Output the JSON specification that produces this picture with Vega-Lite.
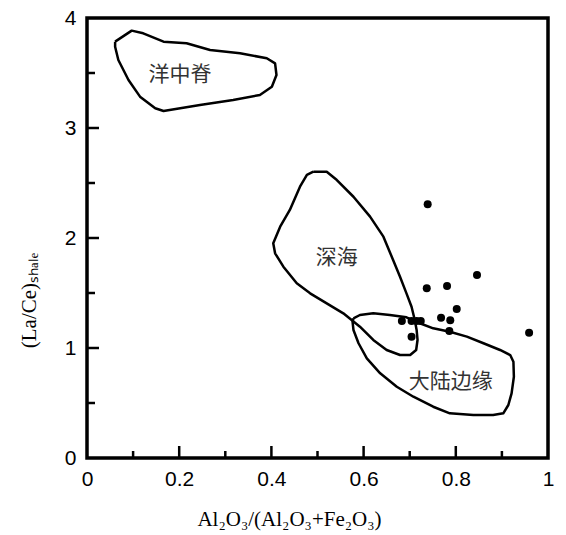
{
  "$schema": "https://vega.github.io/schema/vega-lite/v6.json",
  "width": 461,
  "height": 440,
  "autosize": {"type": "none"},
  "padding": {"left": 87, "top": 18, "right": 18, "bottom": 77},
  "background": "white",
  "view": {"stroke": "black", "strokeWidth": 3.5},
  "resolve": {"scale": {"x": "independent", "y": "independent"}, "axis": {"x": "independent", "y": "independent"}},
  "datasets": {
    "regions": [
      {"region": "ridge", "ord": 1, "x": 0.061, "y": 3.785},
      {"region": "ridge", "ord": 2, "x": 0.097, "y": 3.885},
      {"region": "ridge", "ord": 3, "x": 0.122, "y": 3.861},
      {"region": "ridge", "ord": 4, "x": 0.166, "y": 3.785},
      {"region": "ridge", "ord": 5, "x": 0.216, "y": 3.770},
      {"region": "ridge", "ord": 6, "x": 0.267, "y": 3.709},
      {"region": "ridge", "ord": 7, "x": 0.332, "y": 3.679},
      {"region": "ridge", "ord": 8, "x": 0.390, "y": 3.634},
      {"region": "ridge", "ord": 9, "x": 0.408, "y": 3.588},
      {"region": "ridge", "ord": 10, "x": 0.411, "y": 3.482},
      {"region": "ridge", "ord": 11, "x": 0.401, "y": 3.375},
      {"region": "ridge", "ord": 12, "x": 0.375, "y": 3.300},
      {"region": "ridge", "ord": 13, "x": 0.317, "y": 3.255},
      {"region": "ridge", "ord": 14, "x": 0.245, "y": 3.209},
      {"region": "ridge", "ord": 15, "x": 0.166, "y": 3.155},
      {"region": "ridge", "ord": 16, "x": 0.148, "y": 3.179},
      {"region": "ridge", "ord": 17, "x": 0.115, "y": 3.285},
      {"region": "ridge", "ord": 18, "x": 0.090, "y": 3.436},
      {"region": "ridge", "ord": 19, "x": 0.068, "y": 3.618},
      {"region": "ridge", "ord": 20, "x": 0.061, "y": 3.739},
      {"region": "ridge", "ord": 21, "x": 0.061, "y": 3.785},

      {"region": "deep", "ord": 1, "x": 0.491, "y": 2.603},
      {"region": "deep", "ord": 2, "x": 0.520, "y": 2.603},
      {"region": "deep", "ord": 3, "x": 0.542, "y": 2.527},
      {"region": "deep", "ord": 4, "x": 0.578, "y": 2.375},
      {"region": "deep", "ord": 5, "x": 0.614, "y": 2.194},
      {"region": "deep", "ord": 6, "x": 0.643, "y": 2.012},
      {"region": "deep", "ord": 7, "x": 0.664, "y": 1.800},
      {"region": "deep", "ord": 8, "x": 0.679, "y": 1.648},
      {"region": "deep", "ord": 9, "x": 0.693, "y": 1.497},
      {"region": "deep", "ord": 10, "x": 0.704, "y": 1.375},
      {"region": "deep", "ord": 11, "x": 0.711, "y": 1.255},
      {"region": "deep", "ord": 12, "x": 0.715, "y": 1.164},
      {"region": "deep", "ord": 13, "x": 0.717, "y": 1.073},
      {"region": "deep", "ord": 14, "x": 0.714, "y": 0.982},
      {"region": "deep", "ord": 15, "x": 0.701, "y": 0.936},
      {"region": "deep", "ord": 16, "x": 0.679, "y": 0.936},
      {"region": "deep", "ord": 17, "x": 0.650, "y": 0.982},
      {"region": "deep", "ord": 18, "x": 0.621, "y": 1.073},
      {"region": "deep", "ord": 19, "x": 0.592, "y": 1.194},
      {"region": "deep", "ord": 20, "x": 0.556, "y": 1.315},
      {"region": "deep", "ord": 21, "x": 0.520, "y": 1.406},
      {"region": "deep", "ord": 22, "x": 0.484, "y": 1.497},
      {"region": "deep", "ord": 23, "x": 0.455, "y": 1.588},
      {"region": "deep", "ord": 24, "x": 0.426, "y": 1.739},
      {"region": "deep", "ord": 25, "x": 0.408, "y": 1.861},
      {"region": "deep", "ord": 26, "x": 0.404, "y": 1.952},
      {"region": "deep", "ord": 27, "x": 0.419, "y": 2.103},
      {"region": "deep", "ord": 28, "x": 0.440, "y": 2.255},
      {"region": "deep", "ord": 29, "x": 0.462, "y": 2.466},
      {"region": "deep", "ord": 30, "x": 0.477, "y": 2.573},
      {"region": "deep", "ord": 31, "x": 0.491, "y": 2.603},

      {"region": "margin", "ord": 1, "x": 0.578, "y": 1.270},
      {"region": "margin", "ord": 2, "x": 0.592, "y": 1.300},
      {"region": "margin", "ord": 3, "x": 0.621, "y": 1.315},
      {"region": "margin", "ord": 4, "x": 0.657, "y": 1.300},
      {"region": "margin", "ord": 5, "x": 0.693, "y": 1.279},
      {"region": "margin", "ord": 6, "x": 0.722, "y": 1.225},
      {"region": "margin", "ord": 7, "x": 0.751, "y": 1.179},
      {"region": "margin", "ord": 8, "x": 0.787, "y": 1.148},
      {"region": "margin", "ord": 9, "x": 0.824, "y": 1.103},
      {"region": "margin", "ord": 10, "x": 0.860, "y": 1.043},
      {"region": "margin", "ord": 11, "x": 0.896, "y": 0.982},
      {"region": "margin", "ord": 12, "x": 0.918, "y": 0.936},
      {"region": "margin", "ord": 13, "x": 0.925, "y": 0.875},
      {"region": "margin", "ord": 14, "x": 0.926, "y": 0.739},
      {"region": "margin", "ord": 15, "x": 0.921, "y": 0.588},
      {"region": "margin", "ord": 16, "x": 0.914, "y": 0.482},
      {"region": "margin", "ord": 17, "x": 0.903, "y": 0.406},
      {"region": "margin", "ord": 18, "x": 0.881, "y": 0.391},
      {"region": "margin", "ord": 19, "x": 0.838, "y": 0.391},
      {"region": "margin", "ord": 20, "x": 0.787, "y": 0.406},
      {"region": "margin", "ord": 21, "x": 0.751, "y": 0.466},
      {"region": "margin", "ord": 22, "x": 0.708, "y": 0.557},
      {"region": "margin", "ord": 23, "x": 0.672, "y": 0.648},
      {"region": "margin", "ord": 24, "x": 0.636, "y": 0.770},
      {"region": "margin", "ord": 25, "x": 0.607, "y": 0.906},
      {"region": "margin", "ord": 26, "x": 0.589, "y": 1.043},
      {"region": "margin", "ord": 27, "x": 0.578, "y": 1.164},
      {"region": "margin", "ord": 28, "x": 0.576, "y": 1.239},
      {"region": "margin", "ord": 29, "x": 0.578, "y": 1.270}
    ],
    "samples": [
      {"x": 0.739, "y": 2.306},
      {"x": 0.846, "y": 1.664},
      {"x": 0.737, "y": 1.543},
      {"x": 0.781, "y": 1.564},
      {"x": 0.802, "y": 1.355},
      {"x": 0.768, "y": 1.275},
      {"x": 0.788, "y": 1.252},
      {"x": 0.786, "y": 1.155},
      {"x": 0.959, "y": 1.139},
      {"x": 0.683, "y": 1.245},
      {"x": 0.704, "y": 1.245},
      {"x": 0.715, "y": 1.245},
      {"x": 0.724, "y": 1.245},
      {"x": 0.704, "y": 1.103}
    ],
    "labels": [
      {"x": 0.202, "y": 3.48, "text": "洋中脊"},
      {"x": 0.542, "y": 1.815, "text": "深海"},
      {"x": 0.789, "y": 0.694, "text": "大陆边缘"}
    ],
    "xmajor": [{"v": 0.2}, {"v": 0.4}, {"v": 0.6}, {"v": 0.8}],
    "xminor": [{"v": 0.1}, {"v": 0.3}, {"v": 0.5}, {"v": 0.7}, {"v": 0.9}],
    "ymajor": [{"v": 1}, {"v": 2}, {"v": 3}],
    "yminor": [{"v": 0.5}, {"v": 1.5}, {"v": 2.5}, {"v": 3.5}]
  },
  "layer": [
    {
      "data": {"name": "regions"},
      "mark": {"type": "line", "color": "black", "strokeWidth": 2.5, "interpolate": "linear", "strokeJoin": "round"},
      "encoding": {
        "x": {
          "field": "x", "type": "quantitative",
          "scale": {"domain": [0, 1], "nice": false, "zero": false},
          "axis": {
            "orient": "top",
            "offset": -440,
            "grid": false,
            "domain": false,
            "ticks": false,
            "title": "Al₂O₃/(Al₂O₃+Fe₂O₃)",
            "titleFont": "Liberation Serif",
            "titleFontSize": 21,
            "titleFontWeight": "normal",
            "titleColor": "black",
            "values": [0, 0.2, 0.4, 0.6, 0.8, 1],
            "format": "~g",
            "labelFont": "Liberation Sans",
            "labelFontSize": 21,
            "labelColor": "black",
            "labelBaseline": "top",
            "labelPadding": -10,
            "labelFlush": false,
            "labelOverlap": false,
            "titleX": 202,
            "titleY": 67,
            "titleBaseline": "alphabetic",
            "titleAnchor": "middle",
            "titleAlign": "center"
          }
        },
        "y": {
          "field": "y", "type": "quantitative",
          "scale": {"domain": [0, 4], "nice": false, "zero": false},
          "axis": {
            "orient": "right",
            "offset": -461,
            "grid": false,
            "domain": false,
            "ticks": false,
            "title": "(La/Ce)ₛₕₐₗₑ",
            "titleFont": "Liberation Serif",
            "titleFontSize": 21,
            "titleFontWeight": "normal",
            "titleColor": "black",
            "values": [0, 1, 2, 3, 4],
            "format": "~g",
            "labelFont": "Liberation Sans",
            "labelFontSize": 21,
            "labelColor": "black",
            "labelAlign": "right",
            "labelPadding": -11,
            "labelFlush": false,
            "labelOverlap": false,
            "titleX": -52,
            "titleY": 282,
            "titleAngle": -90,
            "titleBaseline": "alphabetic",
            "titleAlign": "center"
          }
        },
        "detail": {"field": "region"},
        "order": {"field": "ord", "type": "quantitative"}
      }
    },
    {
      "data": {"name": "samples"},
      "mark": {"type": "circle", "color": "black", "opacity": 1, "size": 64},
      "encoding": {
        "x": {"field": "x", "type": "quantitative", "scale": {"domain": [0, 1], "nice": false, "zero": false}, "axis": null},
        "y": {"field": "y", "type": "quantitative", "scale": {"domain": [0, 4], "nice": false, "zero": false}, "axis": null}
      }
    },
    {
      "data": {"name": "labels"},
      "mark": {"type": "text", "font": "Noto Sans CJK SC", "fontSize": 21, "color": "#333333", "align": "center", "baseline": "middle"},
      "encoding": {
        "x": {"field": "x", "type": "quantitative", "scale": {"domain": [0, 1], "nice": false, "zero": false}, "axis": null},
        "y": {"field": "y", "type": "quantitative", "scale": {"domain": [0, 4], "nice": false, "zero": false}, "axis": null},
        "text": {"field": "text"}
      }
    },
    {
      "data": {"name": "xmajor"},
      "mark": {"type": "tick", "orient": "vertical", "color": "black", "size": 12, "thickness": 2.5, "yOffset": -6, "opacity": 1},
      "encoding": {
        "x": {"field": "v", "type": "quantitative", "scale": {"domain": [0, 1], "nice": false, "zero": false}, "axis": null},
        "y": {"datum": 0, "type": "quantitative", "scale": {"domain": [0, 4], "nice": false, "zero": false}, "axis": null}
      }
    },
    {
      "data": {"name": "xminor"},
      "mark": {"type": "tick", "orient": "vertical", "color": "black", "size": 7, "thickness": 2.5, "yOffset": -3.5, "opacity": 1},
      "encoding": {
        "x": {"field": "v", "type": "quantitative", "scale": {"domain": [0, 1], "nice": false, "zero": false}, "axis": null},
        "y": {"datum": 0, "type": "quantitative", "scale": {"domain": [0, 4], "nice": false, "zero": false}, "axis": null}
      }
    },
    {
      "data": {"name": "ymajor"},
      "mark": {"type": "tick", "orient": "horizontal", "color": "black", "size": 12, "thickness": 2.5, "xOffset": 6, "opacity": 1},
      "encoding": {
        "x": {"datum": 0, "type": "quantitative", "scale": {"domain": [0, 1], "nice": false, "zero": false}, "axis": null},
        "y": {"field": "v", "type": "quantitative", "scale": {"domain": [0, 4], "nice": false, "zero": false}, "axis": null}
      }
    },
    {
      "data": {"name": "yminor"},
      "mark": {"type": "tick", "orient": "horizontal", "color": "black", "size": 8, "thickness": 2.5, "xOffset": 4, "opacity": 1},
      "encoding": {
        "x": {"datum": 0, "type": "quantitative", "scale": {"domain": [0, 1], "nice": false, "zero": false}, "axis": null},
        "y": {"field": "v", "type": "quantitative", "scale": {"domain": [0, 4], "nice": false, "zero": false}, "axis": null}
      }
    }
  ]
}
